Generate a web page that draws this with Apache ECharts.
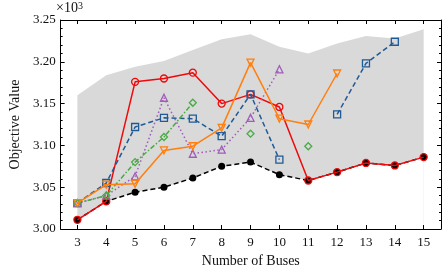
<!DOCTYPE html>
<html>
<head>
<meta charset="utf-8">
<script src="https://cdn.jsdelivr.net/npm/echarts@6/dist/echarts.min.js"></script>
<style>html,body{margin:0;padding:0;background:#fff;}#c{width:448px;height:274px;}</style>
</head>
<body>
<div id="c"></div>
<script>
// Data (values in units of 10^3)
var buses = [3, 4, 5, 6, 7, 8, 9, 10, 11, 12, 13, 14, 15];
var bandUpper = [3.160, 3.184, 3.194, 3.201, 3.214, 3.227, 3.233, 3.218, 3.210, 3.222, 3.231, 3.228, 3.239];
var bestValues = [3.011, 3.033, 3.044, 3.050, 3.061, 3.075, 3.080, 3.065, 3.058, 3.068, 3.079, 3.076, 3.086];
var redValues = [3.011, 3.033, 3.176, 3.180, 3.187, 3.150, 3.161, 3.146, 3.058, 3.068, 3.079, 3.076, 3.086];
var blueValues = [3.031, 3.055, 3.122, 3.133, 3.132, 3.111, 3.161, 3.083, null, 3.137, 3.198, 3.224, null];
var orangeValues = [3.031, 3.053, 3.054, 3.094, 3.099, 3.121, 3.199, 3.132, 3.125, 3.186, null, null, null];
var purpleValues = [3.031, 3.040, 3.063, 3.157, 3.090, 3.095, 3.133, 3.191, null, null, null, null, null];
var greenValues = [3.031, 3.040, 3.080, 3.110, 3.151, null, 3.114, null, 3.099, null, null, null, null];
var yTicks = [3.00, 3.05, 3.10, 3.15, 3.20, 3.25];

function pairs(vals) {
  return buses.map(function (b, i) { return [b, vals[i]]; });
}

var FONT = 'Liberation Serif';
var chart = echarts.init(document.getElementById('c'), null, {renderer: 'canvas'});

function lineSeries(name, vals, color, lineType, symbol, rotate, z) {
  return {
    name: name, type: 'line', data: pairs(vals), z: z,
    symbol: symbol, symbolSize: 7, symbolRotate: rotate || 0, showSymbol: true, showAllSymbol: true,
    connectNulls: false,
    lineStyle: {color: color, width: 1.5, type: lineType},
    itemStyle: {color: 'rgba(0,0,0,0)', borderColor: color, borderWidth: 1.3},
    emphasis: {disabled: true},
    animation: false
  };
}

var xBase = {
  type: 'value', min: 2.42, max: 15.6, z: 20,
  splitLine: {show: false},
  axisLine: {show: true, onZero: false, lineStyle: {color: '#000', width: 1}},
  axisTick: {show: true, inside: true, length: 4, customValues: buses, lineStyle: {color: '#000'}},
  minorTick: {show: false}
};
var yBase = {
  type: 'value', min: 3.0, max: 3.25, interval: 0.05, z: 20,
  splitLine: {show: false},
  axisLine: {show: true, onZero: false, lineStyle: {color: '#000', width: 1}},
  axisTick: {show: true, inside: true, length: 4, lineStyle: {color: '#000'}},
  minorTick: {show: true, splitNumber: 5, length: 2, lineStyle: {color: '#000'}}
};

var option = {
  animation: false,
  backgroundColor: '#fff',
  grid: {left: 55, right: 7, top: 20, bottom: 45, containLabel: false},
  xAxis: [
    Object.assign({}, xBase, {
      position: 'bottom',
      name: 'Number of Buses', nameLocation: 'middle', nameGap: 22,
      nameTextStyle: {fontFamily: FONT, fontSize: 14, color: '#111'},
      axisLabel: {show: true, customValues: buses, margin: 7, fontFamily: FONT, fontSize: 13, color: '#111'}
    }),
    Object.assign({}, xBase, {position: 'top', axisLabel: {show: false}})
  ],
  yAxis: [
    Object.assign({}, yBase, {
      position: 'left',
      name: 'Objective Value', nameLocation: 'middle', nameGap: 37,
      nameTextStyle: {fontFamily: FONT, fontSize: 14, color: '#111'},
      axisLabel: {show: true, margin: 5, fontFamily: FONT, fontSize: 13, color: '#111',
        customValues: yTicks,
        formatter: function (v) { return v.toFixed(2); }}
    }),
    Object.assign({}, yBase, {position: 'right', axisLabel: {show: false}})
  ],
  graphic: [{
    type: 'text', left: 56, top: 1,
    style: {
      text: '{a|×10}{b|3}',
      rich: {
        a: {fontFamily: FONT, fontSize: 14, fill: '#111', verticalAlign: 'bottom'},
        b: {fontFamily: FONT, fontSize: 10, fill: '#111', verticalAlign: 'top'}
      }
    }
  }],
  series: [
    {
      name: 'bandUpper', type: 'line', data: pairs(bandUpper), z: 1,
      symbol: 'none', lineStyle: {opacity: 0}, areaStyle: {color: '#d9d9d9', opacity: 1, origin: 'start'},
      silent: true, animation: false
    },
    {
      name: 'bandLower', type: 'line', data: pairs(bestValues), z: 1,
      symbol: 'none', lineStyle: {opacity: 0}, areaStyle: {color: '#ffffff', opacity: 1, origin: 'start'},
      silent: true, animation: false
    },
    {
      name: 'best', type: 'line', data: pairs(bestValues), z: 2,
      symbol: 'circle', symbolSize: 7, showAllSymbol: true,
      lineStyle: {color: '#000', width: 1.5, type: [5, 3]},
      itemStyle: {color: '#000'}, animation: false
    },
    lineSeries('red', redValues, '#ee0a0a', 'solid', 'circle', 0, 3),
    lineSeries('blue', blueValues, '#1f5a96', [5, 3], 'rect', 0, 4),
    lineSeries('orange', orangeValues, '#ff7f0e', 'solid', 'triangle', 180, 5),
    lineSeries('purple', purpleValues, '#a05cba', [1.5, 2.5], 'triangle', 0, 4),
    lineSeries('green', greenValues, '#4aab45', [5, 2, 1.5, 2], 'diamond', 0, 4)
  ]
};
chart.setOption(option);
</script>
</body>
</html>
